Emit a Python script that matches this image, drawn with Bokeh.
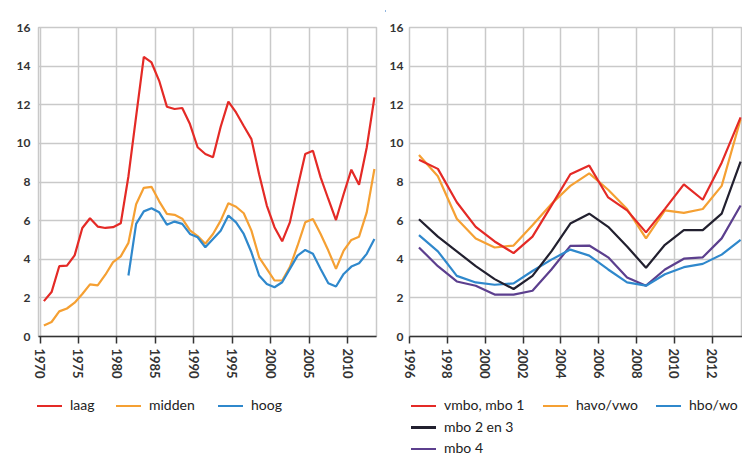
from bokeh.plotting import figure
from bokeh.models import Range1d, FixedTicker, Div
from bokeh.layouts import column, row
from bokeh.embed import file_html
from bokeh.resources import INLINE

# ---------------- data: left chart (1970-2013) ----------------
years_a = list(range(1970, 2014))
laag = [1.83, 2.3, 3.64, 3.67, 4.2, 5.62, 6.12, 5.69, 5.62, 5.66,
        5.86, 8.3, 11.4, 14.48, 14.19, 13.24, 11.9, 11.78, 11.83, 11.0,
        9.8, 9.45, 9.28, 10.86, 12.16, 11.6, 10.9, 10.22, 8.4, 6.78,
        5.66, 4.93, 5.91, 7.72, 9.45, 9.62, 8.24, 7.12, 6.03, 7.38,
        8.64, 7.86, 9.79, 12.38]
midden = [0.57, 0.75, 1.3, 1.45, 1.75, 2.2, 2.7, 2.65, 3.2, 3.85,
          4.15, 4.85, 6.85, 7.7, 7.75, 7.0, 6.35, 6.3, 6.1, 5.5,
          5.2, 4.8, 5.31, 6.0, 6.9, 6.72, 6.38, 5.48, 4.1, 3.5,
          2.9, 2.9, 3.59, 4.7, 5.91, 6.09, 5.31, 4.45, 3.5, 4.45,
          5.0, 5.17, 6.43, 8.67]
hoog = [None] * 11 + [3.16, 5.83, 6.48, 6.64, 6.43, 5.79, 5.95, 5.83, 5.31,
                      5.14, 4.62, 5.05, 5.48, 6.26, 5.91, 5.31, 4.36, 3.16, 2.72,
                      2.55, 2.81, 3.5, 4.19, 4.48, 4.28, 3.5, 2.76, 2.59, 3.24,
                      3.62, 3.79, 4.28, 5.05]
ticks_a = [1970, 1975, 1980, 1985, 1990, 1995, 2000, 2005, 2010]
labels_a = ["laag", "midden", "hoog"]

# ---------------- data: right chart (1996-2013) ----------------
years_b = list(range(1996, 2014))
vmbo_mbo1 = [9.15, 8.68, 6.95, 5.68, 4.92, 4.32, 5.17, 6.78, 8.4, 8.85,
             7.2, 6.53, 5.39, 6.61, 7.88, 7.08, 9.0, 11.35]
havo_vwo = [9.4, 8.3, 6.1, 5.08, 4.61, 4.71, 5.76, 6.86, 7.8, 8.45,
            7.6, 6.6, 5.08, 6.53, 6.4, 6.6, 7.8, 11.25]
mbo2en3 = [6.07, 5.17, 4.41, 3.64, 2.97, 2.46, 3.14, 4.41, 5.85, 6.36,
           5.68, 4.66, 3.56, 4.75, 5.51, 5.51, 6.36, 9.05]
hbo_wo = [5.25, 4.41, 3.14, 2.8, 2.68, 2.75, 3.39, 3.98, 4.5, 4.19,
          3.47, 2.8, 2.63, 3.22, 3.59, 3.76, 4.24, 5.0]
mbo4 = [4.61, 3.64, 2.85, 2.63, 2.17, 2.17, 2.37, 3.47, 4.69, 4.71,
        4.1, 3.05, 2.63, 3.47, 4.03, 4.1, 5.08, 6.78]
ticks_b = [1996, 1998, 2000, 2002, 2004, 2006, 2008, 2010, 2012]
labels_b = ["vmbo, mbo 1", "havo/vwo", "hbo/wo", "mbo 2 en 3", "mbo 4"]

y_ticks = [0, 2, 4, 6, 8, 10, 12, 14, 16]

RED = "#e42a26"
ORANGE = "#f5a033"
BLUE = "#2f88cc"
DARK = "#22202f"
PURPLE = "#5c3f8e"
GRID = "#c9c9c9"
RULE = "#6d9ed6"
FONT = "Lato"
LW = 2.2
NAN = float("nan")


def mid(years):
    return [y + 0.5 for y in years]


def nan(vals):
    return [NAN if v is None else v for v in vals]


def make_fig(width, xr, ticks, b_left, b_right, standoff):
    p = figure(width=width, height=386, x_range=Range1d(*xr), y_range=Range1d(0, 16),
               output_backend="svg", toolbar_location=None,
               min_border_left=b_left, min_border_right=b_right,
               min_border_top=21, min_border_bottom=56,
               background_fill_color="white", border_fill_color="white")
    p.outline_line_color = GRID
    p.outline_line_width = 1.5
    p.xaxis.ticker = FixedTicker(ticks=ticks)
    p.yaxis.ticker = FixedTicker(ticks=y_ticks)
    p.xgrid.grid_line_color = GRID
    p.ygrid.grid_line_color = GRID
    p.xgrid.grid_line_width = 1.5
    p.ygrid.grid_line_width = 1.5
    for ax in p.xaxis:
        ax.axis_line_color = "#333333"
        ax.axis_line_width = 1.5
        ax.major_tick_line_color = "#333333"
        ax.major_tick_line_width = 1.5
        ax.major_tick_out = 7
        ax.major_tick_in = 0
        ax.minor_tick_line_color = None
        ax.major_label_orientation = "vertical"
        ax.major_label_standoff = 5
        ax.major_label_text_font = FONT
        ax.major_label_text_font_style = "bold"
        ax.major_label_text_font_size = "13px"
        ax.major_label_text_color = "#333333"
    for ax in p.yaxis:
        ax.axis_line_color = None
        ax.major_tick_line_color = None
        ax.major_tick_out = 0
        ax.major_tick_in = 0
        ax.minor_tick_line_color = None
        ax.major_label_standoff = standoff
        ax.major_label_text_font = FONT
        ax.major_label_text_font_style = "bold"
        ax.major_label_text_font_size = "12px"
        ax.major_label_text_color = "#333333"
    return p


def legend_div(width, height, items):
    # items: (colour, label, swatch left px, row centre px)
    parts = []
    for color, label, x, cy in items:
        parts.append(
            f'<div style="position:absolute;left:{x}px;top:{cy - 1.1}px;width:25px;'
            f'height:2.2px;background:{color};"></div>')
        parts.append(
            f'<div style="position:absolute;left:{x + 33}px;top:{cy - 9}px;'
            f'font-family:{FONT};font-size:14px;line-height:16px;color:#222222;'
            f'white-space:nowrap;">{label}</div>')
    html = (f'<div style="position:relative;width:{width}px;height:{height}px;">'
            + "".join(parts) + '</div>')
    return Div(text=html, width=width, height=height, margin=0)


# left chart
pa = make_fig(385, (1969.8, 2013.77), ticks_a, 38, 9, 8)
pa.line(mid(years_a), laag, line_color=RED, line_width=LW)
pa.line(mid(years_a), midden, line_color=ORANGE, line_width=LW)
pa.line(mid(years_a), nan(hoog), line_color=BLUE, line_width=LW)

la = legend_div(385, 67, [(RED, labels_a[0], 37, 14),
                          (ORANGE, labels_a[1], 116, 14),
                          (BLUE, labels_a[2], 218, 14)])

# right chart
pb = make_fig(357, (1996.0, 2013.6), ticks_b, 24, 0, 6)
pb.line(mid(years_b), mbo4, line_color=PURPLE, line_width=LW)
pb.line(mid(years_b), hbo_wo, line_color=BLUE, line_width=LW)
pb.line(mid(years_b), mbo2en3, line_color=DARK, line_width=LW)
pb.line(mid(years_b), havo_vwo, line_color=ORANGE, line_width=LW)
pb.line(mid(years_b), vmbo_mbo1, line_color=RED, line_width=LW)

lb = legend_div(357, 67, [(RED, labels_b[0], 26, 14),
                          (ORANGE, labels_b[1], 158, 14),
                          (BLUE, labels_b[2], 271, 14),
                          (DARK, labels_b[3], 26, 35.5),
                          (PURPLE, labels_b[4], 26, 57)])

# thin blue rule at the top
strip = Div(text=(f'<div style="position:relative;width:742px;height:6px;">'
                  f'<div style="position:absolute;left:8px;top:4px;width:734px;height:2px;'
                  f'background:{RULE};"></div></div>'),
            width=742, height=6, margin=0)

layout = column(strip,
                row(column(pa, la, spacing=0), column(pb, lb, spacing=0), spacing=0),
                spacing=0)

open("out.html", "w").write(file_html(layout, INLINE))
